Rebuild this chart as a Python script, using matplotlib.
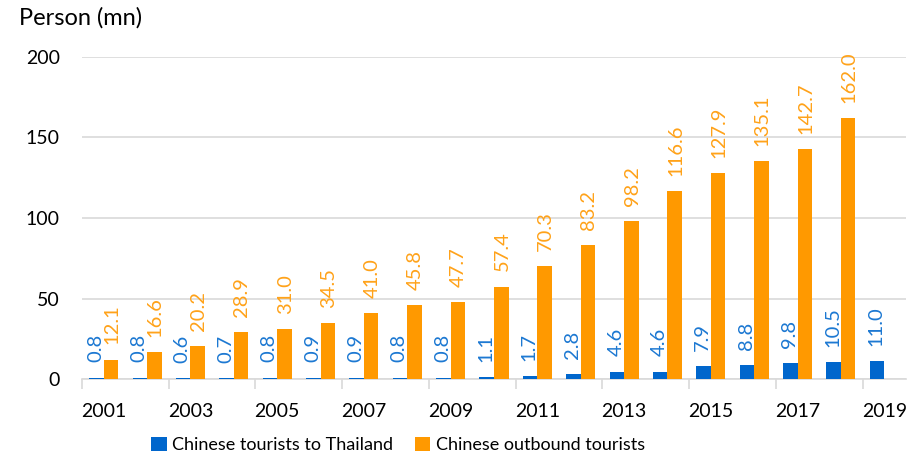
import matplotlib
matplotlib.use('Agg')
import matplotlib.pyplot as plt
import numpy as np

# 数据：2001-2019 中国游客人数（百万）
years = list(range(2001, 2020))
thailand = [0.8, 0.8, 0.6, 0.7, 0.8, 0.9, 0.9, 0.8, 0.8, 1.1, 1.7, 2.8, 4.6, 4.6, 7.9, 8.8, 9.8, 10.5, 11.0]
outbound = [12.1, 16.6, 20.2, 28.9, 31.0, 34.5, 41.0, 45.8, 47.7, 57.4, 70.3, 83.2, 98.2, 116.6, 127.9, 135.1, 142.7, 162.0]
tick_years = [2001, 2003, 2005, 2007, 2009, 2011, 2013, 2015, 2017, 2019]

plt.rcParams['font.family'] = ['Lato', 'DejaVu Sans']
fs = 14
blue, orange = '#0066CC', '#FF9900'
blue_lab, orange_lab = '#1C78D2', '#FFA219'

fig = plt.figure(figsize=(9.22, 4.55), dpi=100)
ax = fig.add_axes([82/922, 1-379/455, (906-82)/922, (379-57)/455])

x = np.arange(len(years))
w = 0.335
ax.bar(x - w/2, thailand, w, color=blue, label='Chinese tourists to Thailand', zorder=3)
ax.bar(x[:len(outbound)] + w/2, outbound, w, color=orange, label='Chinese outbound tourists', zorder=3)

# 数据标签，竖排
for i, v in enumerate(thailand):
    ax.annotate('%.1f' % v, (x[i] - w/2 - 0.02, v), xytext=(0, 11), textcoords='offset points',
                rotation=90, ha='center', va='bottom', color=blue_lab, fontsize=14.5)
for i, v in enumerate(outbound):
    ax.annotate('%.1f' % v, (x[i] + w/2 + 0.02, v), xytext=(0, 11), textcoords='offset points',
                rotation=90, ha='center', va='bottom', color=orange_lab, fontsize=14.5)

ax.set_xlim(-0.5, len(years) - 0.5)
ax.set_ylim(0, 200)
ax.set_yticks([0, 50, 100, 150, 200])
ax.tick_params(axis='y', length=0, labelsize=fs, pad=16)
ax.grid(axis='y', color='#D9D9D9', linewidth=1.2, zorder=0)

# x轴：刻度线在组边界，标签每隔一年
ax.set_xticks(np.arange(-0.5, len(years), 2), minor=False)
ax.set_xticklabels([])
ax.tick_params(axis='x', which='major', length=7, color='#D9D9D9', width=1.2)
ax.set_xticks([years.index(y) for y in tick_years], minor=True)
ax.set_xticklabels([str(y) for y in tick_years], minor=True, fontsize=fs)
ax.tick_params(axis='x', which='minor', length=0, pad=17)

for s in ['top', 'right', 'left']:
    ax.spines[s].set_visible(False)
ax.spines['bottom'].set_color('#D9D9D9')
ax.spines['bottom'].set_linewidth(1.2)

fig.text(19/922, 1-18/455, 'Person (mn)', fontsize=17, va='center', ha='left')

fig.legend(loc='center', bbox_to_anchor=(398/922, 1-445/455), ncol=2, frameon=False,
           fontsize=13, handlelength=0.85, handleheight=0.85, handletextpad=0.3, columnspacing=1.2)

fig.savefig('out.png', dpi=100)
